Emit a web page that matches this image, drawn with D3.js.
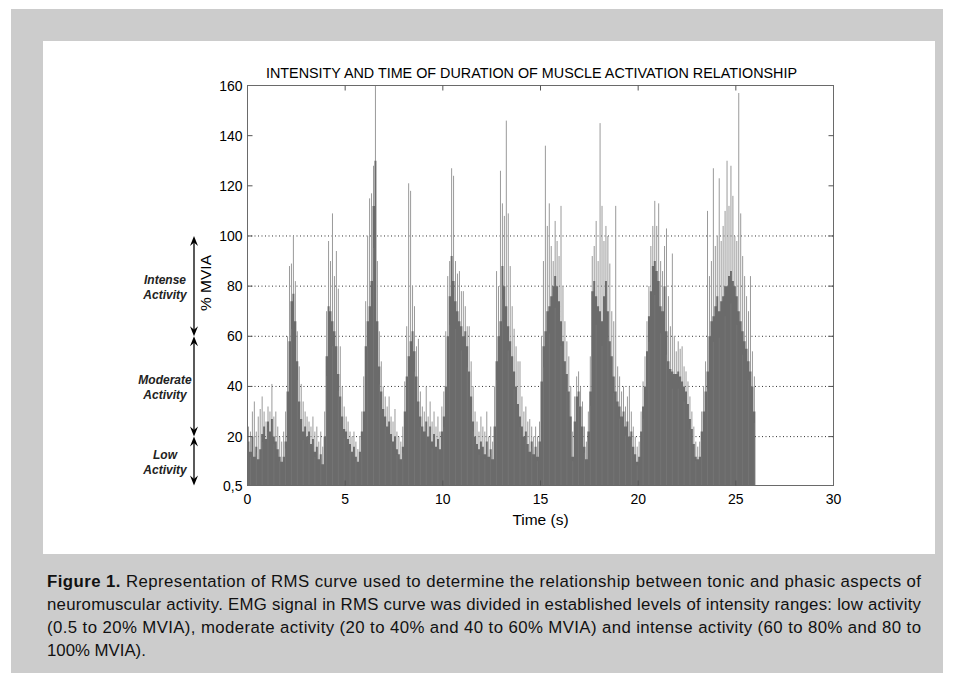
<!DOCTYPE html>
<html><head><meta charset="utf-8">
<script src="https://cdn.jsdelivr.net/npm/d3@7"></script>
<style>html,body{margin:0;padding:0;background:#fff;} svg{display:block;}</style>
</head><body>
<script>
const chartTitle = "INTENSITY AND TIME OF DURATION OF MUSCLE ACTIVATION RELATIONSHIP";
const xTicks = [0, 5, 10, 15, 20, 25, 30];
const yTicks = [0.5, 20, 40, 60, 80, 100, 120, 140, 160];
const yTickLabels = ["0,5", "20", "40", "60", "80", "100", "120", "140", "160"];
const gridLevels = [20, 40, 60, 80, 100];
const bandBounds = [100, 60, 20, 0.5];
const bandLabels = [["Intense", "Activity"], ["Moderate", "Activity"], ["Low", "Activity"]];
const sampleStep = 0.1; // seconds per sample
// dense RMS core (% MVIA), one value per 0.1 s from 0 to 25.9 s
const coreRMS = [
 18,14,20,12,16,11,15,21,24,19,
 26,22,27,20,18,15,12,10,12,18,
 38,58,74,77,66,50,34,27,22,24,
 20,22,17,19,14,16,11,13,9,20,
 52,72,70,66,62,56,45,36,28,23,
 22,19,17,14,16,12,10,14,22,30,
 56,66,72,82,112,130,66,48,38,31,
 28,24,26,21,18,20,15,13,11,16,
 30,44,52,58,62,54,44,34,28,24,
 22,26,20,24,18,21,16,19,15,22,
 28,40,60,76,92,82,74,70,66,64,
 60,62,56,46,36,26,20,17,15,18,
 16,13,18,12,15,11,24,50,60,66,
 88,80,72,64,58,52,46,40,33,28,
 24,20,22,17,14,18,13,16,12,18,
 42,56,62,70,72,76,80,84,80,74,
 66,58,50,45,38,28,12,26,36,38,
 32,24,16,11,22,38,78,82,76,72,
 70,66,76,82,70,58,52,44,38,34,
 32,28,30,24,26,20,22,16,13,10,
 12,22,32,40,54,68,78,88,90,86,
 82,72,70,80,62,50,47,46,45,45,
 46,44,42,40,38,33,27,23,17,12,
 11,12,22,30,38,46,60,66,68,72,
 76,70,74,76,80,80,84,86,82,80,
 76,70,66,62,58,55,50,46,40,30
];
// light spike tops (% MVIA), same sampling
const peakRMS = [
 24,22,30,34,22,28,31,36,30,26,
 32,30,41,28,30,24,20,18,22,30,
 60,88,89,100,82,62,48,41,34,30,
 28,26,24,28,22,24,18,22,16,30,
 70,98,90,109,84,94,79,56,40,32,
 28,26,22,20,22,18,15,20,30,44,
 74,100,115,117,128,160,90,62,50,40,
 36,32,36,28,26,31,22,20,18,24,
 42,64,121,118,80,72,56,59,38,32,
 30,40,28,34,26,30,24,28,22,32,
 38,62,84,90,127,124,90,85,86,78,
 78,72,64,64,50,40,30,26,22,28,
 24,22,30,20,24,18,40,86,80,126,
 113,108,146,109,88,72,63,56,50,50,
 36,30,32,26,27,24,20,24,20,26,
 60,90,136,104,113,96,90,106,98,92,
 112,80,66,58,52,40,22,36,44,46,
 40,34,24,18,30,52,92,96,106,90,
 145,112,98,104,100,89,70,66,112,48,
 44,38,40,32,36,40,30,24,20,16,
 18,30,42,52,66,80,96,104,114,104,
 113,90,86,96,103,76,64,93,60,54,
 58,55,56,48,46,42,36,30,24,18,
 16,18,30,40,50,110,84,90,127,96,
 100,123,98,104,110,130,112,128,116,100,
 98,157,109,92,84,76,70,84,54,44
];
const captionLines = [
 ["Figure 1.", " Representation of RMS curve used to determine the relationship between tonic and phasic aspects of"],
 ["", "neuromuscular activity. EMG signal in RMS curve was divided in established levels of intensity ranges: low activity"],
 ["", "(0.5 to 20% MVIA), moderate activity (20 to 40% and 40 to 60% MVIA) and intense activity (60 to 80% and 80 to"],
 ["", "100% MVIA)."]
];

const W = 954, H = 682;
const svg = d3.select("body").append("svg").attr("width", W).attr("height", H)
  .style("font-family", "'Liberation Sans', Arial, sans-serif");

svg.append("rect").attr("x", 11).attr("y", 9).attr("width", 932).attr("height", 664).attr("fill", "#cccccc");
svg.append("rect").attr("x", 43).attr("y", 41).attr("width", 892).attr("height", 513).attr("fill", "#ffffff");

const x = d3.scaleLinear().domain([0, 30]).range([247.5, 833.5]);
const y = d3.scaleLinear().domain([0.5, 160]).range([485.5, 85.5]);

svg.append("clipPath").attr("id", "plotclip").append("rect")
  .attr("x", x(0)).attr("y", y(160)).attr("width", x(30) - x(0)).attr("height", y(0.5) - y(160));

// grid
svg.append("g").selectAll("line").data(gridLevels).join("line")
  .attr("x1", x(0)).attr("x2", x(30)).attr("y1", d => y(d)).attr("y2", d => y(d))
  .attr("stroke", "#333").attr("stroke-width", 1).attr("stroke-dasharray", "1,2.5");

const samples = coreRMS.map((c, i) => ({t: i * sampleStep, core: c, peak: peakRMS[i]}));
const bw = x(sampleStep) - x(0);
const sig = svg.append("g").attr("clip-path", "url(#plotclip)");
sig.selectAll("line.spike").data(samples).join("line").attr("class", "spike")
  .attr("x1", d => x(d.t) + bw / 2).attr("x2", d => x(d.t) + bw / 2)
  .attr("y1", y(0.5)).attr("y2", d => y(d.peak))
  .attr("stroke", "#9a9a9a").attr("stroke-width", 1);
const stepSamples = samples.concat([{t: samples.length * sampleStep, core: samples[samples.length - 1].core}]);
sig.append("path").datum(stepSamples)
  .attr("d", d3.area().curve(d3.curveStepAfter).x(d => x(d.t)).y0(y(0.5)).y1(d => y(d.core)))
  .attr("fill", "#6b6b6b");
// thin lighter texture lines within the core
sig.selectAll("line.tex").data(samples.filter((d, i) => i % 3 === 1)).join("line").attr("class", "tex")
  .attr("x1", d => x(d.t) + bw / 2).attr("x2", d => x(d.t) + bw / 2)
  .attr("y1", y(0.5)).attr("y2", d => y(d.core * 0.85))
  .attr("stroke", "#7a7a7a").attr("stroke-width", 0.6);

// box
svg.append("rect").attr("x", x(0)).attr("y", y(160)).attr("width", x(30) - x(0)).attr("height", y(0.5) - y(160))
  .attr("fill", "none").attr("stroke", "#6a6a6a").attr("stroke-width", 1);

// ticks
const tk = 5;
const tg = svg.append("g").attr("stroke", "#555").attr("stroke-width", 1);
xTicks.slice(1, -1).forEach(v => {
  tg.append("line").attr("x1", x(v)).attr("x2", x(v)).attr("y1", y(0.5)).attr("y2", y(0.5) - tk);
  tg.append("line").attr("x1", x(v)).attr("x2", x(v)).attr("y1", y(160)).attr("y2", y(160) + tk);
});
yTicks.slice(1, -1).forEach(v => {
  tg.append("line").attr("x1", x(0)).attr("x2", x(0) + tk).attr("y1", y(v)).attr("y2", y(v));
  tg.append("line").attr("x1", x(30)).attr("x2", x(30) - tk).attr("y1", y(v)).attr("y2", y(v));
});

// tick labels
svg.append("g").selectAll("text").data(xTicks).join("text")
  .attr("x", d => x(d)).attr("y", 504).attr("text-anchor", "middle")
  .attr("font-size", 14).attr("fill", "#000").text(d => d);
svg.append("g").selectAll("text").data(yTicks).join("text")
  .attr("x", 242.5).attr("y", d => y(d) + 5).attr("text-anchor", "end")
  .attr("font-size", 14).attr("fill", "#000").text((d, i) => yTickLabels[i]);

svg.append("text").attr("x", (x(0) + x(30)) / 2).attr("y", 525).attr("text-anchor", "middle")
  .attr("font-size", 15.5).attr("fill", "#000").text("Time (s)");
svg.append("text").attr("x", 266).attr("y", 78).attr("textLength", 531).attr("lengthAdjust", "spacingAndGlyphs")
  .attr("font-size", 14.5).attr("fill", "#000").text(chartTitle);

svg.append("text").attr("transform", `translate(211,${283}) rotate(-90)`).attr("text-anchor", "middle")
  .attr("font-size", 15.5).attr("fill", "#000").text("% MVIA");

// activity bands with double arrows
const ax = 194;
const ann = svg.append("g");
function arrowHead(tipY, dir) { // dir -1 = up, +1 = down
  const L = 10, hw = 4, notch = 6.5;
  return `M${ax},${tipY} L${ax - hw},${tipY - dir * L} L${ax},${tipY - dir * notch} L${ax + hw},${tipY - dir * L} Z`;
}
bandLabels.forEach((lab, i) => {
  const y0 = y(bandBounds[i]), y1 = y(bandBounds[i + 1]);
  ann.append("line").attr("x1", ax).attr("x2", ax).attr("y1", y0 + 3).attr("y2", y1 - 3).attr("stroke", "#000").attr("stroke-width", 1.3);
  ann.append("path").attr("d", arrowHead(y0, -1)).attr("fill", "#000");
  ann.append("path").attr("d", arrowHead(y1, 1)).attr("fill", "#000");
  const cy = (y0 + y1) / 2;
  const t = ann.append("text").attr("text-anchor", "middle").attr("font-size", 12).attr("font-style", "italic")
    .attr("font-weight", "bold").attr("fill", "#222");
  t.append("tspan").attr("x", 165).attr("y", cy - 2).text(lab[0]);
  t.append("tspan").attr("x", 165).attr("y", cy + 13).text(lab[1]);
});

// caption
const capY = [587, 610, 633, 656];
captionLines.forEach((ln, i) => {
  const t = svg.append("text").attr("x", 47).attr("y", capY[i]).attr("font-size", 16.8).attr("fill", "#111");
  if (i < 3) t.attr("textLength", 874).attr("lengthAdjust", "spacing");
  if (ln[0]) t.append("tspan").attr("font-weight", "bold").text(ln[0]);
  t.append("tspan").text(ln[1]);
});
</script>
</body></html>
